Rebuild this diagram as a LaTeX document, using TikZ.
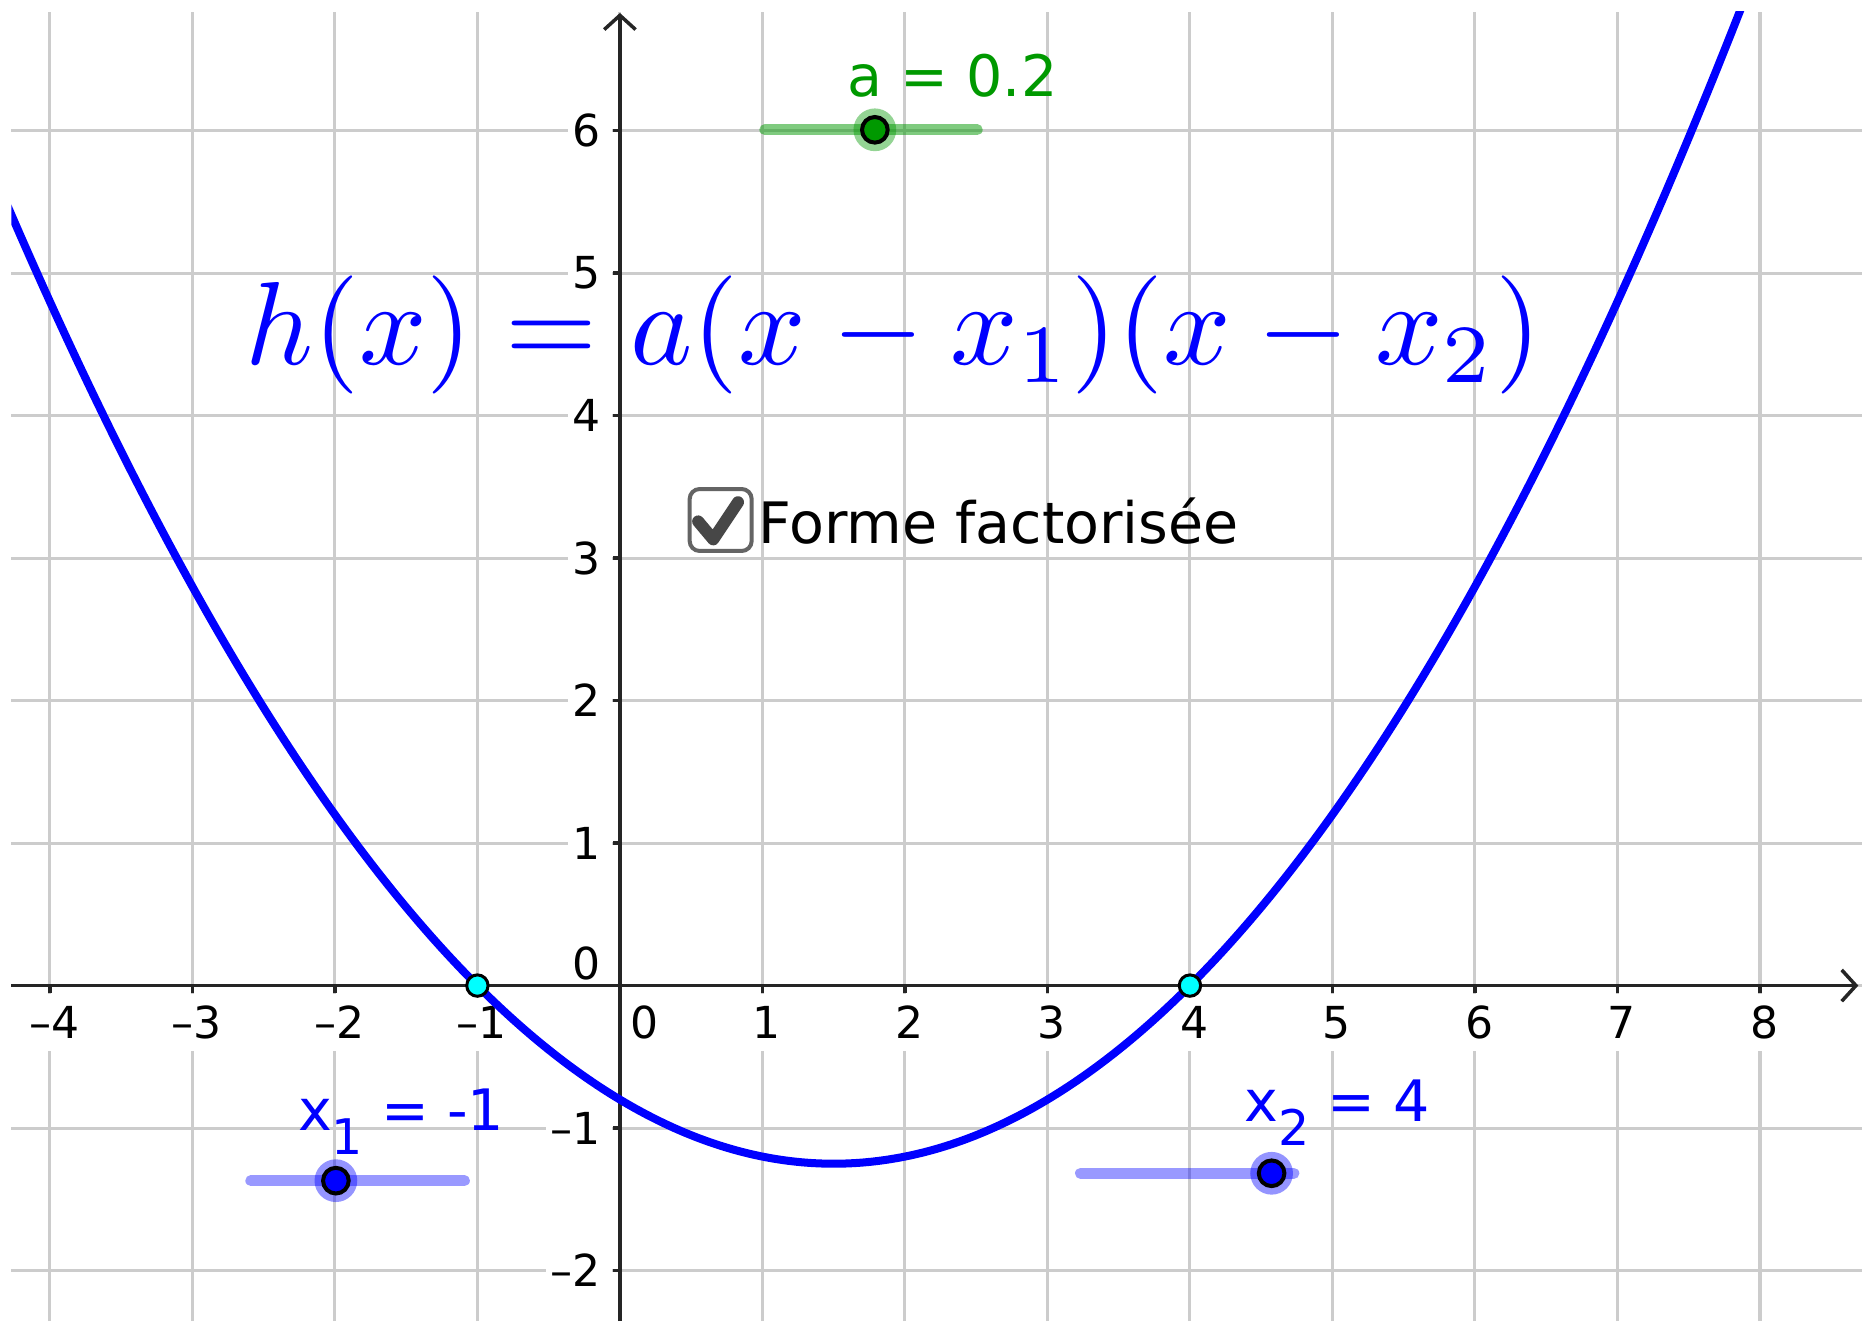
\documentclass[tikz,border=0pt]{standalone}
\usepackage[no-math]{fontspec}
\setmainfont{DejaVu Sans}
\usetikzlibrary{arrows.meta}
\definecolor{ggblue}{RGB}{0,0,255}
\definecolor{gggreen}{RGB}{0,153,0}
\definecolor{gggrid}{RGB}{204,204,204}
\definecolor{ggaxis}{RGB}{37,37,37}
\definecolor{ggcyan}{RGB}{0,255,255}
\definecolor{ggbox}{RGB}{100,100,100}
\begin{document}
\begin{tikzpicture}[x=1cm,y=1cm,
  gline/.style={gggrid,line width=0.6pt},
  axln/.style={ggaxis,line width=0.7pt},
  xlab/.style={fill=white,inner xsep=1pt,inner ysep=0pt,minimum height=0.4cm,font=\fontsize{8.8}{10}\selectfont},
  ylab/.style={fill=white,anchor=east,inner xsep=1pt,inner ysep=1pt,font=\fontsize{8.8}{10}\selectfont},
  txt/.style={anchor=base west,inner sep=0pt,font=\fontsize{11.4}{13}\selectfont},
  bar/.style={line width=2.2pt,line cap=round},
  halo/.style={circle,inner sep=0pt,minimum size=0.3cm,fill opacity=0.42},
  knob/.style={circle,draw=black,line width=0.8pt,inner sep=0pt,minimum size=0.18cm},
  root/.style={circle,draw=black,line width=0.6pt,fill=ggcyan,inner sep=0pt,minimum size=0.15cm}]
  \useasboundingbox (-4.350,-2.354) rectangle (8.716,6.916);
  \fill[white] (-4.350,-2.354) rectangle (8.716,6.916);
  \foreach \i in {-4,...,8} \draw[gline] (\i,-2.354) -- (\i,6.834);
  \foreach \j in {-2,...,6} \draw[gline] (-4.27,\j) -- (8.716,\j);
  \foreach \i/\t [count=\k] in {-4/–4,-3/–3,-2/–2,-1/–1,1/1,2/2,3/3,4/4,5/5,6/6,7/7,8/8}
    \node[xlab] (xl\k) at (\i+0.03,-0.26) {\t};
  \node[xlab] (xl0) at (0.176,-0.26) {0};
  \foreach \j/\t [count=\k] in {-2/–2,-1/–1,1/1,2/2,3/3,4/4,5/5,6/6}
    \node[ylab] (yl\k) at (-0.05,\j) {\t\kern1.2pt};
  \node[ylab] (yl0) at (-0.05,0.152) {0\kern1.2pt};
  \coordinate (xa0) at (-4.27,0);
  \coordinate (xa1) at (8.69,0);
  \coordinate (ya0) at (0,-2.354);
  \coordinate (ya1) at (0,6.825);
  \foreach \i in {-4,...,-1,1,2,...,8} \draw[axln] (\i,0) -- (\i,-0.05);
  \foreach \j in {-2,-1,1,2,...,6} \draw[axln] (0,\j) -- (-0.05,\j);
  \draw[axln,-{Straight Barb[length=1mm,width=2.2mm]}] (xa0) -- (xa1);
  \draw[axln,-{Straight Barb[length=1mm,width=2.2mm]}] (ya0) -- (ya1);
  \begin{scope}
    \clip (-4.27,-2.354) rectangle (8.716,6.834);
    \draw[ggblue,line width=1.6pt,domain=-4.3:7.95,samples=140,smooth] plot (\x,{0.2*(\x+1)*(\x-4)});
  \end{scope}
  \node[root] (r1) at (-1,0) {};
  \node[root] (r2) at (4,0) {};
  \node[anchor=base,inner sep=0pt,text=ggblue,scale=2.36] (hf) at (1.92,4.357) {$h(x)=a(x-x_1)(x-x_2)$};
  \node[draw=ggbox,line width=0.8pt,fill=white,rounded corners=2pt,minimum size=0.435cm,inner sep=0pt] (cb) at (0.707,3.267) {};
  \draw[black!72,line width=2.4pt,line cap=round,line join=round] ([shift={(-0.158,-0.01)}]cb.center) -- ([shift={(-0.052,-0.136)}]cb.center) -- ([shift={(0.122,0.125)}]cb.center);
  \node[txt] (ff) at (0.966,3.104) {Forme factorisée};
  \coordinate (a0) at (1.017,6.005);
  \coordinate (a1) at (2.507,6.005);
  \draw[bar,gggreen,draw opacity=0.5] (a0) -- (a1);
  \node[halo,fill=gggreen] (ha) at (1.789,6.005) {};
  \node[knob,fill=gggreen] (ka) at (ha) {};
  \node[txt,text=gggreen] (la) at (1.59,6.238) {a = 0.2};
  \coordinate (b0) at (-2.59,-1.369);
  \coordinate (b1) at (-1.091,-1.369);
  \draw[bar,ggblue,draw opacity=0.4] (b0) -- (b1);
  \node[halo,fill=ggblue] (hb) at (-1.993,-1.369) {};
  \node[knob,fill=ggblue] (kb) at (hb) {};
  \node[txt,text=ggblue] (lb) at (-2.265,-1.018) {x\raisebox{-4.8pt}{\fontsize{9.8}{11}\selectfont 1} = -1};
  \coordinate (c0) at (3.232,-1.317);
  \coordinate (c1) at (4.729,-1.317);
  \draw[bar,ggblue,draw opacity=0.4] (c0) -- (c1);
  \node[halo,fill=ggblue] (hc) at (4.573,-1.317) {};
  \node[knob,fill=ggblue] (kc) at (hc) {};
  \node[txt,text=ggblue] (lc) at (4.378,-0.955) {x\raisebox{-4.8pt}{\fontsize{9.8}{11}\selectfont 2} = 4};
\end{tikzpicture}
\end{document}
